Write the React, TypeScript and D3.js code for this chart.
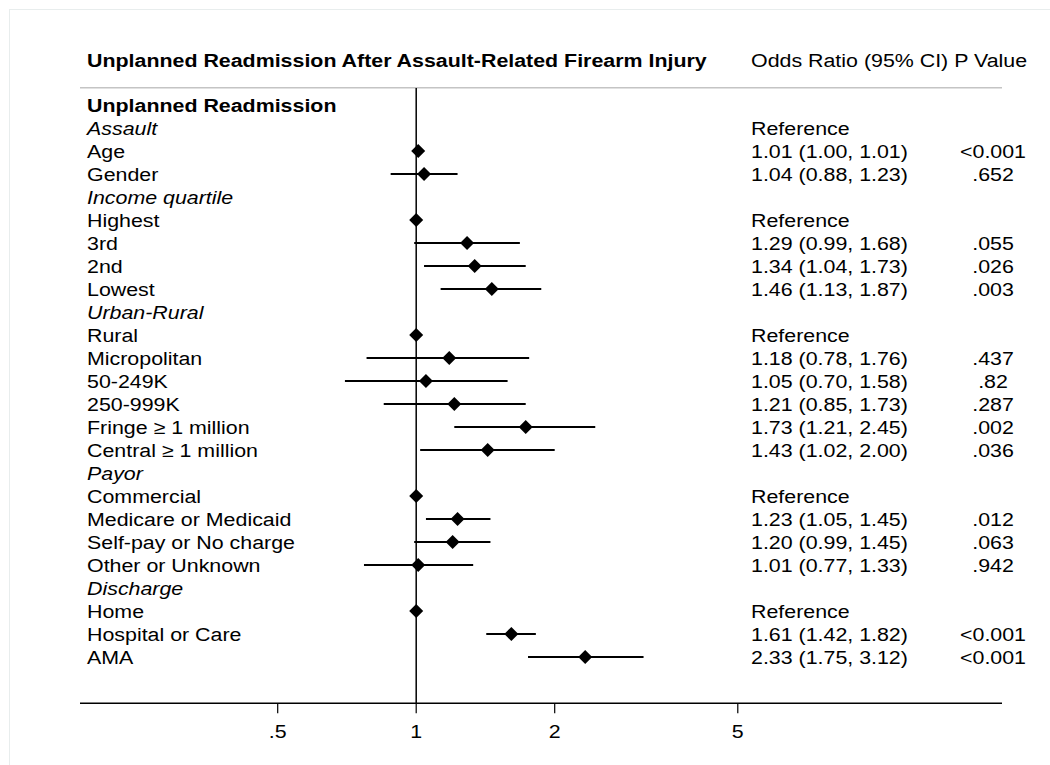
import React from "react";
import * as d3 from "d3";

const labels = [
  "Unplanned Readmission", "Assault", "Age", "Gender", "Income quartile", "Highest", "3rd", "2nd", "Lowest",
  "Urban-Rural", "Rural", "Micropolitan", "50-249K", "250-999K", "Fringe ≥ 1 million", "Central ≥ 1 million",
  "Payor", "Commercial", "Medicare or Medicaid", "Self-pay or No charge", "Other or Unknown",
  "Discharge", "Home", "Hospital or Care", "AMA",
];
const kinds = [
  "title", "group", "item", "item", "group", "item", "item", "item", "item",
  "group", "item", "item", "item", "item", "item", "item",
  "group", "item", "item", "item", "item",
  "group", "item", "item", "item",
];
const oddsRatio: (number | null)[] = [
  null, null, 1.01, 1.04, null, 1, 1.29, 1.34, 1.46,
  null, 1, 1.18, 1.05, 1.21, 1.73, 1.43,
  null, 1, 1.23, 1.2, 1.01,
  null, 1, 1.61, 2.33,
];
const ciLow: (number | null)[] = [
  null, null, 1.0, 0.88, null, null, 0.99, 1.04, 1.13,
  null, null, 0.78, 0.7, 0.85, 1.21, 1.02,
  null, null, 1.05, 0.99, 0.77,
  null, null, 1.42, 1.75,
];
const ciHigh: (number | null)[] = [
  null, null, 1.01, 1.23, null, null, 1.68, 1.73, 1.87,
  null, null, 1.76, 1.58, 1.73, 2.45, 2.0,
  null, null, 1.45, 1.45, 1.33,
  null, null, 1.82, 3.12,
];
const orText = [
  "", "Reference", "1.01 (1.00, 1.01)", "1.04 (0.88, 1.23)", "", "Reference", "1.29 (0.99, 1.68)", "1.34 (1.04, 1.73)", "1.46 (1.13, 1.87)",
  "", "Reference", "1.18 (0.78, 1.76)", "1.05 (0.70, 1.58)", "1.21 (0.85, 1.73)", "1.73 (1.21, 2.45)", "1.43 (1.02, 2.00)",
  "", "Reference", "1.23 (1.05, 1.45)", "1.20 (0.99, 1.45)", "1.01 (0.77, 1.33)",
  "", "Reference", "1.61 (1.42, 1.82)", "2.33 (1.75, 3.12)",
];
const pText = [
  "", "", "<0.001", ".652", "", "", ".055", ".026", ".003",
  "", "", ".437", ".82", ".287", ".002", ".036",
  "", "", ".012", ".063", ".942",
  "", "", "<0.001", "<0.001",
];
// Assault "Reference" row has no marker in the source
const showMarker = [
  false, false, true, true, false, true, true, true, true,
  false, true, true, true, true, true, true,
  false, true, true, true, true,
  false, true, true, true,
];
const tickValues = [0.5, 1, 2, 5];
const tickLabels = [".5", "1", "2", "5"];

const FONT = "'Liberation Sans', Arial, Helvetica, sans-serif";
const FS = 18.6;
const SX = 1.15;

function T(props: {
  x: number; y: number; children: React.ReactNode; anchor?: string; bold?: boolean; italic?: boolean; dy?: string;
}) {
  return (
    <text
      transform={`translate(${props.x},${props.y}) scale(${SX},1)`}
      dy={props.dy ?? "0.35em"}
      fontSize={FS}
      fontWeight={props.bold ? "bold" : "normal"}
      fontStyle={props.italic ? "italic" : "normal"}
      textAnchor={props.anchor ?? "start"}
      fill="#000"
    >
      {props.children}
    </text>
  );
}

export default function App() {
  const W = 1050, H = 765;
  const x = d3.scaleLog().domain([0.5, 5]).range([277.7, 277.7 + 138.5 * Math.log2(10)]);
  const y = d3.scaleLinear().domain([0, labels.length - 1]).range([105, 105 + 23 * (labels.length - 1)]);
  const axisY = 703.3;
  const diamond = (cx: number, cy: number, r: number) =>
    `M${cx},${cy - r}L${cx + r},${cy}L${cx},${cy + r}L${cx - r},${cy}Z`;

  return (
    <svg width={W} height={H} style={{ position: "absolute", left: 0, top: 0, background: "#fff" }} fontFamily={FONT}>
      <rect x={0} y={0} width={W} height={H} fill="#fff" />
      <rect x={9.5} y={9.5} width={W + 10} height={H + 10} fill="none" stroke="#e8eded" strokeWidth={1} />
      {/* header */}
      <T x={87} y={67} dy="0" bold>Unplanned Readmission After Assault-Related Firearm Injury</T>
      <T x={751} y={67} dy="0">Odds Ratio (95% CI) P Value</T>
      <line x1={80} x2={1002} y1={87.7} y2={87.7} stroke="#c4c4c4" strokeWidth={1.5} />
      {/* null line */}
      <line x1={x(1)} x2={x(1)} y1={88} y2={axisY} stroke="#000" strokeWidth={1.5} />
      {/* rows */}
      {labels.map((lab, i) => {
        const cy = y(i);
        const k = kinds[i];
        return (
          <g key={i}>
            <T x={87} y={cy} bold={k === "title"} italic={k === "group"}>{lab}</T>
            {orText[i] && <T x={751} y={cy}>{orText[i]}</T>}
            {pText[i] && <T x={993} y={cy} anchor="middle">{pText[i]}</T>}
            {ciLow[i] != null && ciHigh[i] != null && (
              <line x1={x(ciLow[i] as number)} x2={x(ciHigh[i] as number)} y1={cy} y2={cy} stroke="#000" strokeWidth={2} />
            )}
            {showMarker[i] && oddsRatio[i] != null && (
              <path d={diamond(x(oddsRatio[i] as number), cy, 7)} fill="#000" />
            )}
          </g>
        );
      })}
      {/* x axis */}
      <line x1={80} x2={1002} y1={axisY} y2={axisY} stroke="#000" strokeWidth={1.5} />
      {tickValues.map((t, i) => (
        <g key={t}>
          <line x1={x(t)} x2={x(t)} y1={axisY} y2={axisY + 10} stroke="#000" strokeWidth={1.2} />
          <T x={x(t)} y={738} dy="0" anchor="middle">{tickLabels[i]}</T>
        </g>
      ))}
    </svg>
  );
}
